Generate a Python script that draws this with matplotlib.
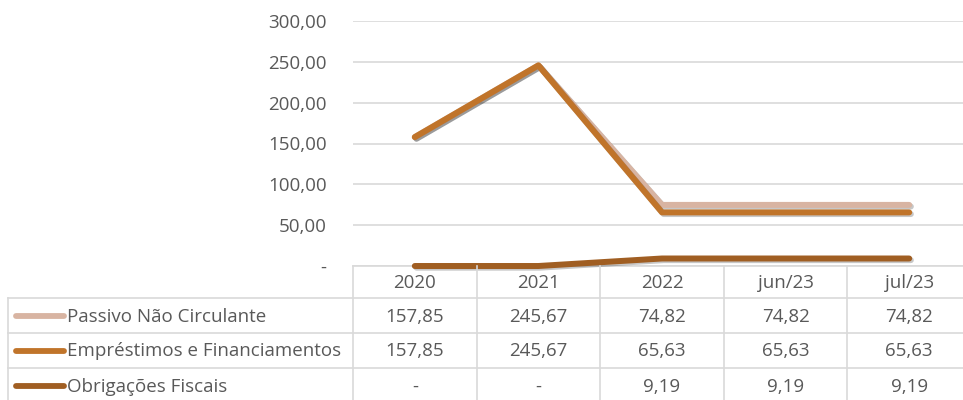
import matplotlib
matplotlib.use("Agg")
import matplotlib.pyplot as plt
import matplotlib.patheffects as pe
from matplotlib.ticker import FuncFormatter

categories = ["2020", "2021", "2022", "jun/23", "jul/23"]
series_names = ["Passivo Não Circulante", "Empréstimos e Financiamentos", "Obrigações Fiscais"]
passivo = [157.85, 245.67, 74.82, 74.82, 74.82]
emprestimos = [157.85, 245.67, 65.63, 65.63, 65.63]
obrigacoes = [0.0, 0.0, 9.19, 9.19, 9.19]
series_values = [passivo, emprestimos, obrigacoes]
colors = ["#D8B4A2", "#C0742A", "#A05E22"]

plt.rcParams['font.family'] = ['Open Sans', 'DejaVu Sans']
TXT = "#595959"
GRID = "#D9D9D9"
FS = 13.5

W, H = 963, 400
fig = plt.figure(figsize=(W / 100, H / 100), dpi=100)

# pixel layout
px_left, px_right = 353, 971
px_top, px_bottom = 21, 266
ax = fig.add_axes([px_left / W, 1 - px_bottom / H, (px_right - px_left) / W, (px_bottom - px_top) / H])
n = len(categories)
ax.set_xlim(-0.5, n - 0.5)
ax.set_ylim(0, 300)
ax.set_yticks([0, 50, 100, 150, 200, 250, 300])
ax.yaxis.set_major_formatter(FuncFormatter(lambda v, p: "-" if v == 0 else f"{v:.2f}".replace(".", ",")))
ax.tick_params(axis='y', length=0, labelsize=FS, labelcolor=TXT, pad=19)
ax.set_xticks([])
ax.grid(axis='y', color=GRID, lw=1.2)
ax.set_axisbelow(True)
for s in ["top", "right", "left"]:
    ax.spines[s].set_visible(False)
ax.spines["bottom"].set_color(GRID)
ax.spines["bottom"].set_linewidth(1.2)

xs = list(range(n))
shadow = [pe.SimpleLineShadow(offset=(1.2, -1.2), shadow_color="black", alpha=0.22), pe.Normal()]
for vals, c in zip(series_values, colors):
    ax.plot(xs, vals, color=c, lw=4.3, solid_capstyle='round', solid_joinstyle='round',
            path_effects=shadow, clip_on=False, zorder=3)

# table drawn in pixel coordinates
tax = fig.add_axes([0, 0, 1, 1])
tax.set_xlim(0, W)
tax.set_ylim(H, 0)
tax.axis('off')
row_lines = [266, 298, 333, 368, 403]
col_w = (px_right - px_left) / n
col_edges = [px_left + i * col_w for i in range(n + 1)]
tbl_left = 8
lc = GRID
lw = 1.2
for y in row_lines[1:]:
    tax.plot([tbl_left, W], [y, y], color=lc, lw=lw, zorder=1)
for x in col_edges:
    tax.plot([x, x], [row_lines[0], row_lines[-1]], color=lc, lw=lw, zorder=1)
tax.plot([tbl_left, tbl_left], [row_lines[1], row_lines[-1]], color=lc, lw=lw)

for i, cat in enumerate(categories):
    cx = (col_edges[i] + col_edges[i + 1]) / 2
    tax.text(cx, (row_lines[0] + row_lines[1]) / 2 + 1, cat, ha='center', va='center', fontsize=FS, color=TXT)

def fmt(v):
    if v == 0:
        return "-"
    return f"{v:.2f}".replace(".", ",")

for r, (name, vals, c) in enumerate(zip(series_names, series_values, colors)):
    y0, y1 = row_lines[r + 1], row_lines[r + 2]
    cy = (y0 + y1) / 2
    tax.plot([16, 64], [cy, cy], color=c, lw=4.2, solid_capstyle='round')
    tax.text(67, cy + 1, name, ha='left', va='center', fontsize=FS, color=TXT)
    for i, v in enumerate(vals):
        cx = (col_edges[i] + col_edges[i + 1]) / 2
        tax.text(cx, cy + 1, fmt(v), ha='center', va='center', fontsize=FS, color=TXT)

fig.savefig("out.png", dpi=100)
